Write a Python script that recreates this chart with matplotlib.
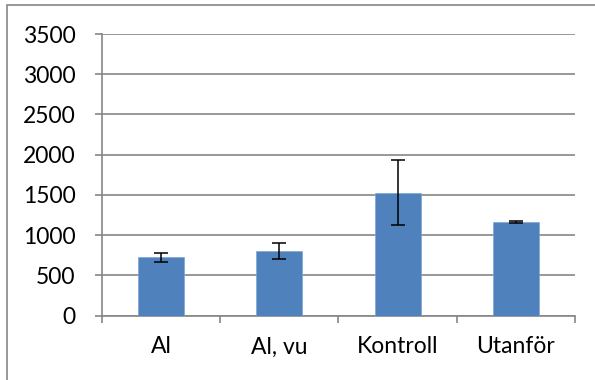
import matplotlib.pyplot as plt
import matplotlib.patches as patches

categories = ["Al", "Al, vu", "Kontroll", "Utanför"]
values = [725, 803, 1527, 1162]
errors = [58, 102, 402, 13]
yticks = [0, 500, 1000, 1500, 2000, 2500, 3000, 3500]

grey = "#868686"
plt.rcParams["font.family"] = ["Lato", "DejaVu Sans"]

fig = plt.figure(figsize=(5.95, 3.8), dpi=100)
ax = fig.add_axes([0.1714, 0.1697, 0.795, 0.7408])

x = list(range(len(categories)))
ax.bar(x, values, width=0.39, color="#4F81BD", edgecolor="#7FA6D6", linewidth=0.5, zorder=3)
ax.errorbar(x, values, yerr=errors, fmt="none", ecolor="black", elinewidth=1.1,
            capsize=5, capthick=1.1, zorder=4)

ax.set_xlim(-0.5, len(categories) - 0.5)
ax.set_ylim(0, 3500)
ax.set_yticks(yticks)
ax.set_yticklabels([str(v) for v in yticks], fontsize=16.5, color="black")
ax.yaxis.grid(True, color=grey, linewidth=1.2, zorder=0)
ax.set_axisbelow(True)

# category boundaries as major ticks, labels on minor ticks
ax.set_xticks([i - 0.5 for i in range(len(categories) + 1)])
ax.set_xticklabels([])
ax.set_xticks(x, minor=True)
ax.set_xticklabels(categories, minor=True, fontsize=16.5, color="black")
ax.tick_params(axis="x", which="major", length=5, width=1.2, color=grey)
ax.tick_params(axis="x", which="minor", length=0, pad=15)
ax.tick_params(axis="y", length=5, width=1.2, color=grey, pad=14)

for s in ["top", "right"]:
    ax.spines[s].set_visible(False)
for s in ["left", "bottom"]:
    ax.spines[s].set_color(grey)
    ax.spines[s].set_linewidth(1.2)

# outer chart border (right and bottom edges are cut off in the original)
fig.patches.append(patches.Rectangle((7 / 595, -0.5), 2, 1.5 - 5 / 380,
                                     transform=fig.transFigure, fill=False,
                                     edgecolor=grey, linewidth=1.2))

fig.savefig("out.png", dpi=100)
